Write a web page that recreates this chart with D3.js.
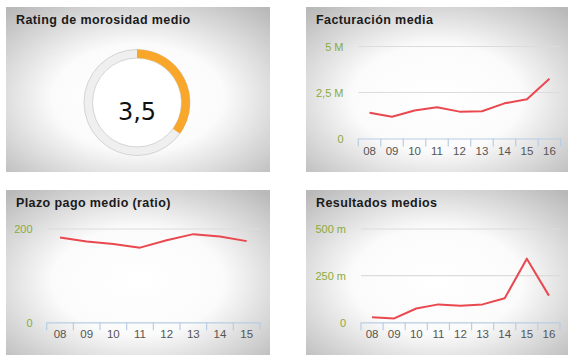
<!DOCTYPE html>
<html>
<head>
<meta charset="utf-8">
<script src="https://cdn.jsdelivr.net/npm/d3@7"></script>
<style>
  body { margin: 0; background: #fff; }
  text { font-family: 'Liberation Sans', Arial, sans-serif; }
</style>
</head>
<body>
<div id="chart"></div>
<script>
// data
const rating = 3.5;
const ratingMax = 10;

const years9 = ['08', '09', '10', '11', '12', '13', '14', '15', '16'];
const years8 = ['08', '09', '10', '11', '12', '13', '14', '15'];

const facturacion = [1.40, 1.18, 1.52, 1.70, 1.46, 1.48, 1.91, 2.13, 3.25]; // millones
const facturacionTicks = [0, 2.5, 5];
const facturacionLabels = ['0', '2,5 M', '5 M'];

const plazo = [182, 173, 168, 160, 176, 189, 184, 174];
const plazoTicks = [0, 200];
const plazoLabels = ['0', '200'];

const resultados = [27, 21, 74, 96, 89, 96, 129, 341, 143]; // miles
const resultadosTicks = [0, 250, 500];
const resultadosLabels = ['0', '250 m', '500 m'];

const width = 575;
const height = 362;

const svg = d3.select('#chart')
  .append('svg')
  .attr('width', width)
  .attr('height', height);

const defs = svg.append('defs');
const grad = defs.append('radialGradient')
  .attr('id', 'panelBg')
  .attr('cx', '50%')
  .attr('cy', '55%')
  .attr('r', '72%');
grad.append('stop').attr('offset', '0%').attr('stop-color', '#ffffff');
grad.append('stop').attr('offset', '45%').attr('stop-color', '#fbfbfb');
grad.append('stop').attr('offset', '100%').attr('stop-color', '#b9b9b9');

const panels = [
  { x: 6, y: 7, w: 264, h: 165, title: 'Rating de morosidad medio' },
  { x: 306, y: 7, w: 262, h: 165, title: 'Facturación media' },
  { x: 6, y: 190, w: 264, h: 165, title: 'Plazo pago medio (ratio)' },
  { x: 306, y: 190, w: 262, h: 165, title: 'Resultados medios' },
];

panels.forEach((p) => {
  svg.append('rect')
    .attr('x', p.x)
    .attr('y', p.y)
    .attr('width', p.w)
    .attr('height', p.h)
    .attr('fill', 'url(#panelBg)');
  svg.append('text')
    .attr('x', p.x + 10)
    .attr('y', p.y + 17)
    .style('font-size', '12.5px')
    .style('font-weight', 'bold')
    .style('letter-spacing', '0.4px')
    .attr('fill', '#1a1a1a')
    .text(p.title);
});

// donut
const cx = 137;
const cy = 102.5;
const outerR = 53;
const innerR = 44.5;
const donut = svg.append('g').attr('transform', `translate(${cx},${cy})`);
const arc = d3.arc().innerRadius(innerR).outerRadius(outerR);
const angle = d3.scaleLinear().domain([0, ratingMax]).range([0, 2 * Math.PI]);

donut.append('path')
  .attr('d', arc({ startAngle: 0, endAngle: 2 * Math.PI }))
  .attr('fill', '#efefef');
donut.append('circle').attr('r', outerR).attr('fill', 'none').attr('stroke', '#d4d4d4').attr('stroke-width', 1);
donut.append('circle').attr('r', innerR).attr('fill', '#fff').attr('stroke', '#d4d4d4').attr('stroke-width', 1);
donut.append('path')
  .attr('d', arc({ startAngle: 0, endAngle: angle(rating) }))
  .attr('fill', '#f8a72a');
donut.append('text')
  .attr('y', 17.5)
  .attr('text-anchor', 'middle')
  .style('font-family', "'DejaVu Sans', sans-serif")
  .style('font-size', '24px')
  .attr('fill', '#111')
  .text(String(rating).replace('.', ','));

// line charts
const drawLine = (opts) => {
  const x = d3.scaleBand()
    .domain(opts.categories)
    .range([opts.x0, opts.x1]);
  const y = d3.scaleLinear()
    .domain([0, opts.ticks[opts.ticks.length - 1]])
    .range([opts.y0, opts.y1]);

  const g = svg.append('g');

  // gridlines
  g.selectAll('.grid')
    .data(opts.ticks.filter((t) => t > 0))
    .enter()
    .append('line')
    .attr('x1', opts.x0)
    .attr('x2', opts.x1)
    .attr('y1', (d) => y(d))
    .attr('y2', (d) => y(d))
    .attr('stroke', '#dcdcdc')
    .attr('stroke-width', 1.2);

  // y labels
  g.selectAll('.ylab')
    .data(opts.ticks)
    .enter()
    .append('text')
    .attr('x', opts.labelX)
    .attr('y', (d) => y(d))
    .attr('dy', '0.4em')
    .attr('text-anchor', 'end')
    .style('font-size', '11px')
    .attr('fill', '#8aab3c')
    .text((d, i) => opts.labels[i]);

  // x axis
  const axis = g.append('g')
    .attr('transform', `translate(0,${opts.y0})`)
    .call(d3.axisBottom(x).tickSize(0).tickSizeOuter(0).tickPadding(8));
  axis.select('.domain').attr('stroke', '#b9cde3').attr('stroke-width', 1.2);
  axis.selectAll('text')
    .style('font-family', "'Liberation Sans', Arial, sans-serif")
    .style('font-size', '11.5px')
    .attr('fill', '#555');

  const edges = opts.categories.map((c) => x(c)).concat([opts.x1]);
  axis.selectAll('.edge')
    .data(edges)
    .enter()
    .append('line')
    .attr('x1', (d) => d)
    .attr('x2', (d) => d)
    .attr('y1', 0)
    .attr('y2', 8)
    .attr('stroke', '#b9cde3')
    .attr('stroke-width', 1.2);

  const line = d3.line()
    .x((d, i) => x(opts.categories[i]) + x.bandwidth() / 2)
    .y((d) => y(d));

  g.append('path')
    .datum(opts.values)
    .attr('d', line)
    .attr('fill', 'none')
    .attr('stroke', '#e9484f')
    .attr('stroke-width', 2)
    .attr('stroke-linejoin', 'round');
};

drawLine({
  categories: years9,
  values: facturacion,
  ticks: facturacionTicks,
  labels: facturacionLabels,
  x0: 358.3,
  x1: 560.7,
  y0: 138.5,
  y1: 46.5,
  labelX: 343.5,
});

drawLine({
  categories: years8,
  values: plazo,
  ticks: plazoTicks,
  labels: plazoLabels,
  x0: 46.7,
  x1: 260,
  y0: 322.3,
  y1: 229,
  labelX: 32.5,
});

drawLine({
  categories: years9,
  values: resultados,
  ticks: resultadosTicks,
  labels: resultadosLabels,
  x0: 361,
  x1: 560,
  y0: 322.3,
  y1: 229,
  labelX: 346,
});
</script>
</body>
</html>
